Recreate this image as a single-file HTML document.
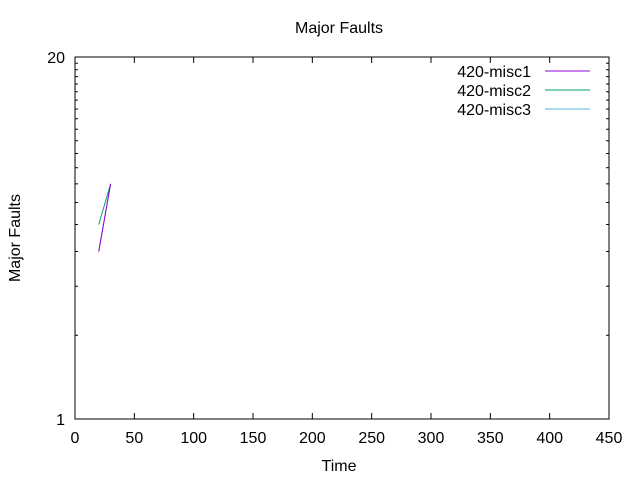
<!DOCTYPE html>
<html><head><meta charset="utf-8"><style>
body{margin:0;background:#fff;}
svg text{font-family:"Liberation Sans",sans-serif;font-size:16px;fill:#000;}
</style></head><body>
<svg id="chart" width="640" height="480" xmlns="http://www.w3.org/2000/svg">
<rect width="640" height="480" fill="#fff"/>
<text x="339" y="33" text-anchor="middle">Major Faults</text>
<text x="339" y="471" text-anchor="middle">Time</text>
<text transform="translate(20,238) rotate(-90)" text-anchor="middle">Major Faults</text>
<g id="axes"></g>
<g id="series"></g>
<g id="legend"></g>
</svg>
<script>
const xTicks=[0,50,100,150,200,250,300,350,400,450];
const yLabels=[1,20];
const seriesNames=['420-misc1','420-misc2','420-misc3'];
const seriesColors=['#9400d3','#009e73','#56b4e9'];
const misc1X=[20,30], misc1Y=[4,7];
const misc2X=[20,30], misc2Y=[5,7];
const misc3X=[20,30], misc3Y=[4,7];
const L=75,R=609,T=57,B=419;
const xs=v=>L+v*(R-L)/450;
const ys=v=>B-Math.log10(v)/Math.log10(20)*(B-T);
const NS='http://www.w3.org/2000/svg';
function mk(t,a,p){const e=document.createElementNS(NS,t);for(const k in a)e.setAttribute(k,a[k]);p.appendChild(e);return e;}
const ax=document.getElementById('axes');
const frame=mk('rect',{x:L,y:T,width:R-L,height:B-T,fill:'none',stroke:'#000','stroke-width':1},ax);


xTicks.forEach(v=>{const x=xs(v);
 const t1=mk('line',{x1:x,x2:x,y1:B,y2:B-6,stroke:'#000'},ax);
 
 
 const t2=mk('line',{x1:x,x2:x,y1:T,y2:T+6,stroke:'#000'},ax);
 
 
 const lb=mk('text',{x:x,y:B+24,'text-anchor':'middle'},ax);lb.textContent=v;
 
 
});
for(let v=2;v<20;v++){const y=ys(v);
 const a=mk('line',{x1:L,x2:L+3,y1:y,y2:y,stroke:'#000'},ax);
 
 
 const b=mk('line',{x1:R,x2:R-3,y1:y,y2:y,stroke:'#000'},ax);
 
 
}
yLabels.forEach(v=>{const y=ys(v);
 const a=mk('line',{x1:L,x2:L+6,y1:y,y2:y,stroke:'#000'},ax);
 
 
 const b=mk('line',{x1:R,x2:R-6,y1:y,y2:y,stroke:'#000'},ax);
 
 
 const lb=mk('text',{x:L-10,y:y+6,'text-anchor':'end'},ax);lb.textContent=v;
 
 
});
const sg=document.getElementById('series');
const data=[[misc1X,misc1Y],[misc2X,misc2Y],[misc3X,misc3Y]];
[2,1,0].forEach(i=>{const [X,Y]=data[i];
 const p=mk('polyline',{points:X.map((x,j)=>xs(x)+','+ys(Y[j])).join(' '),fill:'none',stroke:seriesColors[i],'stroke-width':1},sg);
 
 
});
const lg=document.getElementById('legend');
seriesNames.forEach((n,i)=>{const y=71+i*19;
 const t=mk('text',{x:531,y:y+6,'text-anchor':'end'},lg);t.textContent=n;
 
 
 const l=mk('line',{x1:545,x2:590,y1:y,y2:y,stroke:seriesColors[i]},lg);
 
 
});
</script>
</body></html>
